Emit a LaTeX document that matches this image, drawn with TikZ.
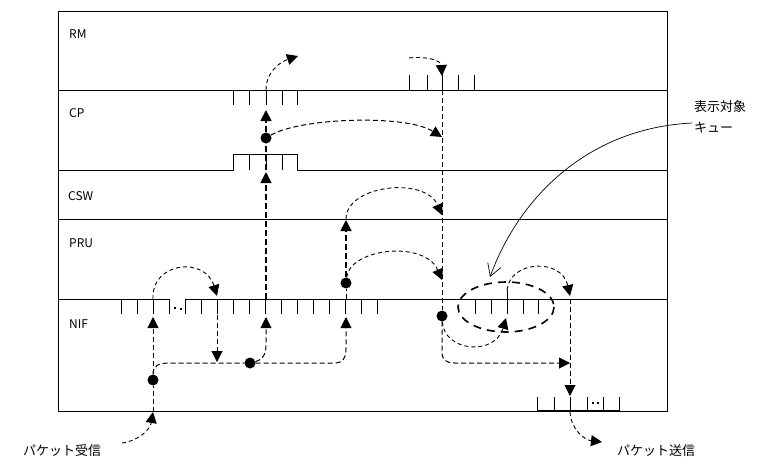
\documentclass[tikz,border=0pt]{standalone}
\usepackage{fontspec}
\setmainfont{Noto Sans CJK JP}
\usetikzlibrary{arrows.meta}
\begin{document}
\begin{tikzpicture}[x=1pt,y=-1pt,
  frame/.style={line width=1pt},
  tk/.style={line width=1pt},
  dl/.style={dash pattern=on 5pt off 3pt, line width=1pt},
  dc/.style={dash pattern=on 4pt off 3pt, line width=0.9pt},
  dlthick/.style={dash pattern=on 6pt off 3pt, line width=1.6pt},
  arr/.style={-{Triangle[length=11pt,width=11pt]}},
  dotn/.style={circle, fill, inner sep=0pt, minimum size=11pt},
  smalldot/.style={fill, inner sep=0pt, minimum size=1.6pt},
  lane/.style={anchor=base west, font=\fontsize{12}{14}\selectfont, inner sep=0pt},
  jp/.style={anchor=base west, font=\fontsize{13}{15}\selectfont, inner sep=0pt},
  ann/.style={line width=0.7pt, -{Straight Barb[length=12pt,width=14pt]}},
  qring/.style={dash pattern=on 8pt off 6pt, line width=1.6pt}
]
\useasboundingbox (0,0) rectangle (763,474);

% frame and lanes
\draw[frame] (58,11) rectangle (667,411);
\draw[frame] (58,90) -- (667,90);
\draw[frame] (58,170) -- (233,170) -- (233,154) -- (297,154) -- (297,170) -- (667,170);
\draw[frame] (58,219) -- (667,219);
\draw[frame] (58,299) -- (169,299);
\draw[frame] (185,299) -- (667,299);

% lane labels
\node[lane] (lrm)  at (69,38)  {RM};
\node[lane] (lcp)  at (69,117) {CP};
\node[lane] (lcsw) at (68,200) {CSW};
\node[lane] (lpru) at (69,247) {PRU};
\node[lane] (lnif) at (69,328) {NIF};

% queues
\foreach \x in {233,249,266,282,297} \draw[tk] (\x,90) -- (\x,105);
\foreach \x in {409,427,442,458,474} \draw[tk] (\x,75) -- (\x,90);
\foreach \x in {249,266,282} \draw[tk] (\x,154) -- (\x,170);
\foreach \x in {121,137,153,169} \draw[tk] (\x,299) -- (\x,314);
\foreach \k in {0,...,12} \draw[tk] ({185+16*\k},299) -- ({185+16*\k},314);
\node[smalldot] (q1a) at (175,308) {};
\node[smalldot] (q1b) at (181,309) {};
\foreach \x in {475,491,523,538} \draw[tk] (\x,299) -- (\x,314);
\draw[tk] (507,290) -- (507,314);
\foreach \x in {537,554,570,587,603,619} \draw[tk] (\x,397) -- (\x,411);
\draw[line width=2pt] (537,411) -- (619,411);
\node[smalldot] (q2a) at (593,403) {};
\node[smalldot] (q2b) at (598,403) {};

% queue ring
\draw[qring] (506,307) ellipse [x radius=48, y radius=25];

% dots
\node[dotn] (d1) at (153,380) {};
\node[dotn] (d2) at (250,363) {};
\node[dotn] (d3) at (266,138) {};
\node[dotn] (d4) at (442,316) {};
\node[dotn] (d5) at (346,283) {};

% coordinates
\coordinate (rxs) at (122,443);
\coordinate (rxin) at (153,412);
\coordinate (a1) at (153,317);
\coordinate (nif1) at (153,299);
\coordinate (a2) at (217,296);
\coordinate (a3top) at (217,299);
\coordinate (a3) at (217,362);
\coordinate (a4) at (346,317);
\coordinate (a5) at (266,317);
\coordinate (cswin) at (266,299);
\coordinate (a6) at (266,172);
\coordinate (cpb) at (266,170);
\coordinate (a7) at (266,110);
\coordinate (cpt) at (266,90);
\coordinate (a8) at (298,56);
\coordinate (a9) at (442,137);
\coordinate (rms) at (409,58);
\coordinate (a10) at (442,76);
\coordinate (rmb) at (442,90);
\coordinate (cswb) at (346,219);
\coordinate (a11) at (442,215);
\coordinate (nifb) at (346,299);
\coordinate (a12) at (346,220);
\coordinate (a13) at (442,280);
\coordinate (a14) at (506,318);
\coordinate (qs) at (507,290);
\coordinate (a15) at (570,296);
\coordinate (a16) at (570,363);
\coordinate (outs) at (570,299);
\coordinate (a17) at (570,396);
\coordinate (outb) at (570,412);
\coordinate (a18) at (602,442);
\coordinate (anns) at (692,123);
\coordinate (annt) at (490,277);

% texts
\node[jp] (rx) at (23,455) {パケット受信};
\node[jp] (tx) at (617,455) {パケット送信};
\node[jp, align=left, font=\fontsize{13}{21}\selectfont, anchor=north west] (lbl) at (694,100) {表示対象\\キュー};

% reception
\draw[dc,arr] (rxs) .. controls (138,441) and (150,430) .. (rxin);
\draw[dl] (rxin) -- (d1);
\draw[dl,arr] (d1) -- (a1);
\draw[dc,arr] (nif1) .. controls (151,262) and (205,256) .. (a2);
\draw[dl,arr] (a3top) -- (a3);
\draw[dl] (d1) .. controls (153,366) and (158,363) .. (170,363) -- (d2);
\draw[dl,arr] (d2) -- (334,363) .. controls (343,363) and (346,358) .. (346,348) -- (a4);
\draw[dl,arr] (d2) .. controls (262,360) and (266,355) .. (266,345) -- (a5);

% CP path
\draw[dlthick,arr] (cswin) -- (a6);
\draw[dlthick] (cpb) -- (d3);
\draw[dlthick,arr] (d3) -- (a7);
\draw[dc,arr] (cpt) .. controls (266,72) and (280,62) .. (a8);
\draw[dl,arr] (d3) .. controls (300,118) and (405,114) .. (a9);

% RM
\draw[dc,arr] (rms) .. controls (425,56) and (441,60) .. (a10);
\draw[dl] (rmb) -- (d4);

% CSW / PRU
\draw[dl] (nifb) -- (d5);
\draw[dlthick,arr] (d5) -- (a12);
\draw[dc,arr] (cswb) .. controls (346,185) and (425,176) .. (a11);
\draw[dc,arr] (d5) .. controls (350,248) and (425,240) .. (a13);

% NIF output side
\draw[dc,arr] (d4) .. controls (444,352) and (495,356) .. (a14);
\draw[dc,arr] (qs) .. controls (510,260) and (562,258) .. (a15);
\draw[dl,arr] (d4) -- (442,352) .. controls (442,360) and (446,363) .. (455,363) -- (a16);
\draw[dl,arr] (outs) -- (a17);
\draw[dc,arr] (outb) .. controls (571,430) and (585,440) .. (a18);

% annotation
\draw[ann] (anns) .. controls (590,128) and (520,195) .. (annt);
\end{tikzpicture}
\end{document}
